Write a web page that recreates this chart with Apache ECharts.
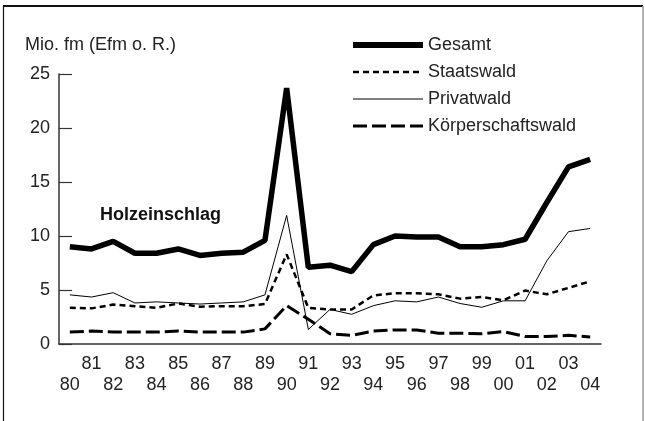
<!DOCTYPE html>
<html>
<head>
<meta charset="utf-8">
<script src="https://cdn.jsdelivr.net/npm/echarts@6/dist/echarts.min.js"></script>
<style>
  html, body { margin: 0; padding: 0; background: #fff; }
  #chart { width: 645px; height: 421px; }
</style>
</head>
<body>
<div id="chart"></div>
<script>
// Holzeinschlag 1980-2004, Mio. fm
var years = ['80', '81', '82', '83', '84', '85', '86', '87', '88', '89', '90', '91', '92',
    '93', '94', '95', '96', '97', '98', '99', '00', '01', '02', '03', '04'];

var gesamt = [9.0, 8.8, 9.5, 8.4, 8.4, 8.8, 8.2, 8.4, 8.5, 9.6, 23.7, 7.1, 7.3,
    6.7, 9.2, 10.0, 9.9, 9.9, 9.0, 9.0, 9.2, 9.7, 13.1, 16.4, 17.1];
var staatswald = [3.35, 3.3, 3.65, 3.5, 3.35, 3.75, 3.45, 3.5, 3.5, 3.7, 8.3, 3.35, 3.2,
    3.2, 4.5, 4.7, 4.7, 4.6, 4.2, 4.35, 4.05, 4.95, 4.6, 5.2, 5.8];
var privatwald = [4.55, 4.35, 4.75, 3.8, 3.9, 3.8, 3.7, 3.8, 3.9, 4.55, 11.9, 1.35, 3.2,
    2.75, 3.55, 4.0, 3.9, 4.35, 3.75, 3.4, 4.0, 4.0, 7.7, 10.4, 10.7];
var koerperschaftswald = [1.1, 1.2, 1.1, 1.1, 1.1, 1.2, 1.1, 1.1, 1.1, 1.4, 3.55, 2.3, 0.95,
    0.8, 1.2, 1.3, 1.3, 1.0, 1.0, 0.95, 1.15, 0.7, 0.7, 0.8, 0.65];

var yTicks = [0, 5, 10, 15, 20, 25];

var font = '"Liberation Sans", Arial, sans-serif';
var textColor = '#222';

var chart = echarts.init(document.getElementById('chart'));

function legendItem(name, width, dash) {
    return {
        name: name,
        itemStyle: { opacity: 0 },
        lineStyle: { width: width, type: dash || 'solid', color: '#000' }
    };
}

var option = {
    animation: false,
    backgroundColor: '#fff',
    textStyle: { fontFamily: font, color: textColor },
    grid: { left: 59, right: 44, top: 74, bottom: 77 },
    legend: {
        orient: 'vertical',
        left: 350,
        top: 36,
        padding: 0,
        itemWidth: 70,
        itemHeight: 14,
        itemGap: 9,
        textStyle: { fontFamily: font, fontSize: 18, color: textColor },
        data: [
            legendItem('Gesamt', 6),
            legendItem('Staatswald', 2.5, [6, 4]),
            legendItem('Privatwald', 1),
            legendItem('Körperschaftswald', 3, [14, 5])
        ]
    },
    xAxis: {
        type: 'category',
        data: years,
        boundaryGap: true,
        axisLine: { lineStyle: { color: '#333', width: 1.5 } },
        axisTick: { inside: true, length: 8, interval: 0, lineStyle: { color: '#333', width: 1.2 } },
        axisLabel: {
            interval: 0,
            margin: 10,
            fontSize: 18,
            lineHeight: 21,
            color: textColor,
            formatter: function (v, i) {
                return i % 2 === 1 ? v + '\n' : '\n' + v;
            }
        },
        splitLine: { show: false }
    },
    yAxis: {
        type: 'value',
        min: yTicks[0],
        max: yTicks[yTicks.length - 1],
        interval: 5,
        axisLine: { show: true, lineStyle: { color: '#333', width: 1.5 } },
        axisTick: { show: true, inside: true, length: 13, lineStyle: { color: '#333', width: 1.2 } },
        axisLabel: { fontSize: 18, color: textColor, margin: 9 },
        splitLine: { show: false }
    },
    graphic: [
        { type: 'line', shape: { x1: 3, y1: 6, x2: 643, y2: 6 }, style: { stroke: '#111', lineWidth: 2 } },
        { type: 'line', shape: { x1: 3.5, y1: 6, x2: 3.5, y2: 421 }, style: { stroke: '#111', lineWidth: 1.2 } },
        { type: 'line', shape: { x1: 643, y1: 6, x2: 643, y2: 421 }, style: { stroke: '#999', lineWidth: 1.5 } },
        {
            type: 'text', left: 25, top: 36,
            style: { text: 'Mio. fm (Efm o. R.)', fontFamily: font, fontSize: 18, fill: textColor }
        },
        {
            type: 'text', left: 100, top: 206,
            style: { text: 'Holzeinschlag', fontFamily: font, fontSize: 18, fontWeight: 'bold', fill: '#111' }
        }
    ],
    series: [
        {
            name: 'Gesamt', type: 'line', data: gesamt, symbol: 'none',
            lineStyle: { color: '#000', width: 5.5 }, itemStyle: { color: '#000' }, z: 5
        },
        {
            name: 'Staatswald', type: 'line', data: staatswald, symbol: 'none',
            lineStyle: { color: '#000', width: 2.5, type: [6, 4] }, itemStyle: { color: '#000' }
        },
        {
            name: 'Privatwald', type: 'line', data: privatwald, symbol: 'none',
            lineStyle: { color: '#000', width: 1 }, itemStyle: { color: '#000' }
        },
        {
            name: 'Körperschaftswald', type: 'line', data: koerperschaftswald, symbol: 'none',
            lineStyle: { color: '#000', width: 3, type: [14, 5] }, itemStyle: { color: '#000' }
        }
    ]
};

chart.setOption(option);
</script>
</body>
</html>
